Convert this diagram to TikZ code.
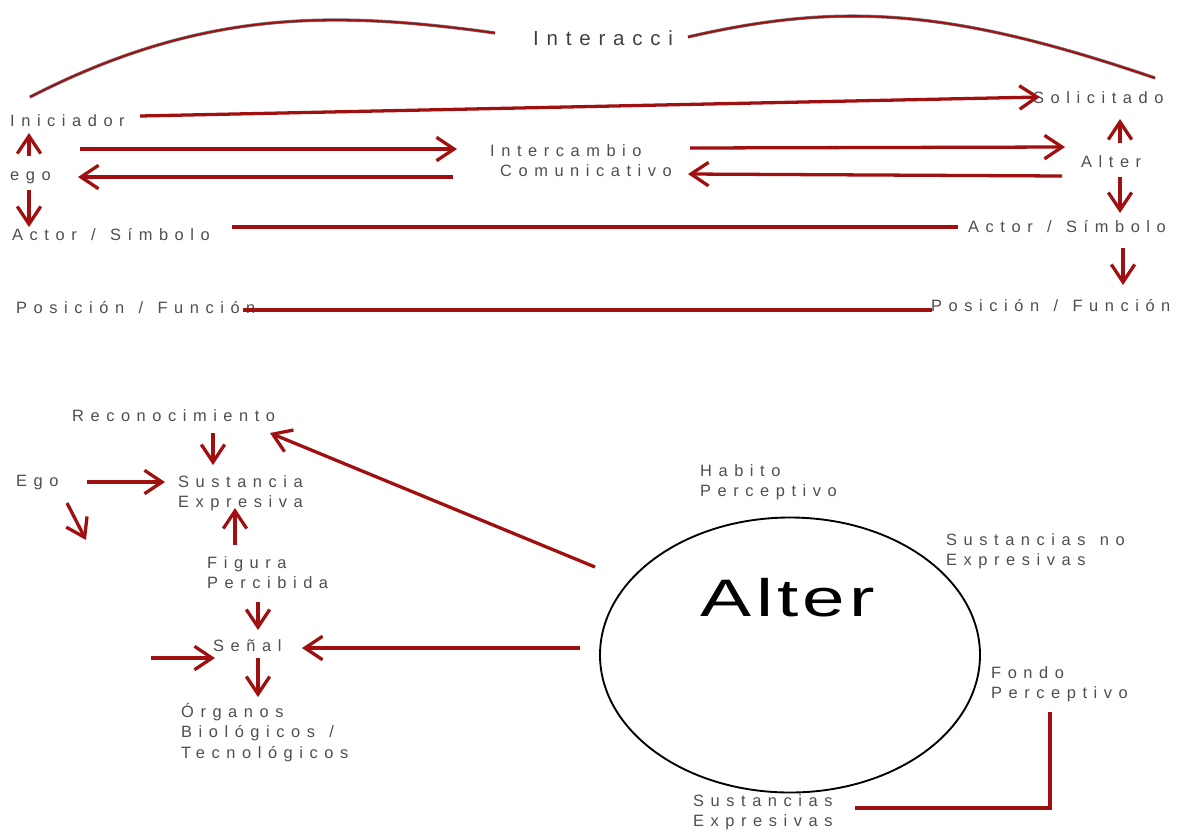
\documentclass[tikz,border=0pt]{standalone}
\usepackage{fontspec}
\usepackage{tikz}
\usetikzlibrary{arrows.meta, shapes.geometric, positioning}

\newfontfamily\lblfont[LetterSpace=40,WordSpace=1.3]{Liberation Sans}
\newfontfamily\ttlfont[LetterSpace=38]{Liberation Sans}
\newfontfamily\bigfont[FakeStretch=1.45,LetterSpace=8]{Liberation Sans}

\definecolor{linered}{RGB}{160,16,16}
\definecolor{txtgray}{RGB}{78,78,78}

\begin{document}
\begin{tikzpicture}[x=0.03cm, y=-0.03cm,
    lbl/.style={inner sep=0, anchor=north west, align=left, text=txtgray, font=\lblfont\fontsize{14}{17.4}\selectfont},
    ttl/.style={inner sep=0, anchor=north west, text=black!75, font=\ttlfont\fontsize{17.5}{20}\selectfont},
    bigtxt/.style={inner sep=0, font=\bigfont\fontsize{45}{50}\selectfont},
    arr/.style={draw=linered, line width=2.8pt, -{Straight Barb[length=15pt, width=20pt]}},
    ln/.style={draw=linered, line width=2.8pt},
    arc/.style={draw=black!55, line width=0.6pt, double=linered, double distance=1.6pt}]
    \useasboundingbox (0,0) rectangle (1180,829);

    % Nodes (top)
    \node (ini) [lbl] at (10,114) {Iniciador};
    \node (ego) [lbl] at (10,171) {ego};
    \node (actl) [lbl] at (12,228) {Actor / Símbolo};
    \node (posl) [lbl] at (16,301) {Posición / Función};
    \node (inter) [ttl] at (533,30) {Interacci};
    \node (icom) [lbl] at (490,144) {Intercambio\\\hspace*{0.3cm}Comunicativo};
    \node (sol) [lbl] at (1033,91) {Solicitado};
    \node (altr) [lbl] at (1081,155) {Alter};
    \node (actr) [lbl] at (968,220) {Actor / Símbolo};
    \node (posr) [lbl] at (931,299) {Posición / Función};

    % Nodes (bottom)
    \node (rec) [lbl] at (72,409) {Reconocimiento};
    \node (egob) [lbl] at (16,475) {Ego};
    \node (sus) [lbl] at (178,475) {Sustancia\\Expresiva};
    \node (fig) [lbl] at (207,556) {Figura\\Percibida};
    \node (sen) [lbl] at (213,639) {Señal};
    \node (org) [lbl] at (181,703) {Órganos\\Biológicos /\\Tecnológicos};
    \node (hab) [lbl] at (700,464) {Habito\\Perceptivo};
    \node (sno) [lbl] at (946,533) {Sustancias no\\Expresivas};
    \node (fon) [lbl] at (991,666) {Fondo\\Perceptivo};
    \node (sex) [lbl] at (693,794) {Sustancias\\Expresivas};
    \node (alt) [draw=black, line width=1.6pt, ellipse, inner sep=0, outer sep=0,
        minimum width=380*0.03cm, minimum height=275*0.03cm] at (790,655) {};
    \node (alttxt) [bigtxt] at (788,598) {Alter};
    \coordinate (egoout) at (86,540);
    \coordinate (senin) at (151,658);

    % Arcs
    \draw [arc] ([shift={(20,-17)}]ini.north west) .. controls (200,10) and (330,10) .. ([shift={(-38,3)}]inter.north west);
    \draw [arc] ([shift={(155,7)}]inter.north west) .. controls (840,2) and (950,8) .. ([shift={(122,-13)}]sol.north west);

    % Path (top)
    \draw [arr] ([shift={(130,2)}]ini.north west) -- ([shift={(7,6)}]sol.north west);
    \draw [arr] ([shift={(19,-15)}]ego.north west) -- ([shift={(19,19)}]ini.north west);
    \draw [arr] ([shift={(19,19)}]ego.north west) -- ([shift={(17,-1)}]actl.north west);
    \draw [arr] ([shift={(70,-22)}]ego.north west) -- ([shift={(-33,5)}]icom.north west);
    \draw [arr] ([shift={(-37,33)}]icom.north west) -- ([shift={(68,6)}]ego.north west);
    \draw [arr] ([shift={(200,4)}]icom.north west) -- ([shift={(-16,-8)}]altr.north west);
    \draw [arr] ([shift={(-19,21)}]altr.north west) -- ([shift={(198,30)}]icom.north west);
    \draw [arr] ([shift={(39,-12)}]altr.north west) -- ([shift={(87,28)}]sol.north west);
    \draw [arr] ([shift={(39,22)}]altr.north west) -- ([shift={(152,-7)}]actr.north west);
    \draw [ln] ([shift={(220,-1)}]actl.north west) -- ([shift={(-10,7)}]actr.north west);
    \draw [arr] ([shift={(155,28)}]actr.north west) -- ([shift={(192,-14)}]posr.north west);
    \draw [ln] ([shift={(227,9)}]posl.north west) -- ([shift={(1,11)}]posr.north west);

    % Path (bottom)
    \draw [arr] ([shift={(141,24)}]rec.north west) -- ([shift={(35,-10)}]sus.north west);
    \draw [arr] ([shift={(71,7)}]egob.north west) -- ([shift={(-13,7)}]sus.north west);
    \draw [arr] ([shift={(51,28)}]egob.north west) -- (egoout);
    \draw [arr] ([shift={(28,-11)}]fig.north west) -- ([shift={(57,33)}]sus.north west);
    \draw [arr] ([shift={(51,46)}]fig.north west) -- ([shift={(45,-9)}]sen.north west);
    \draw [arr] (senin) -- ([shift={(2,19)}]sen.north west);
    \draw [arr] ([shift={(-20,-7)}]alt.west) -- ([shift={(89,9)}]sen.north west);
    \draw [arr] ([shift={(45,19)}]sen.north west) -- ([shift={(77,-6)}]org.north west);
    \draw [arr] ([shift={(-5,-88)}]alt.west) -- ([shift={(198,24)}]rec.north west);
    \draw [ln] ([shift={(162,14)}]sex.north west) -| ([shift={(59,46)}]fon.north west);
\end{tikzpicture}
\end{document}
